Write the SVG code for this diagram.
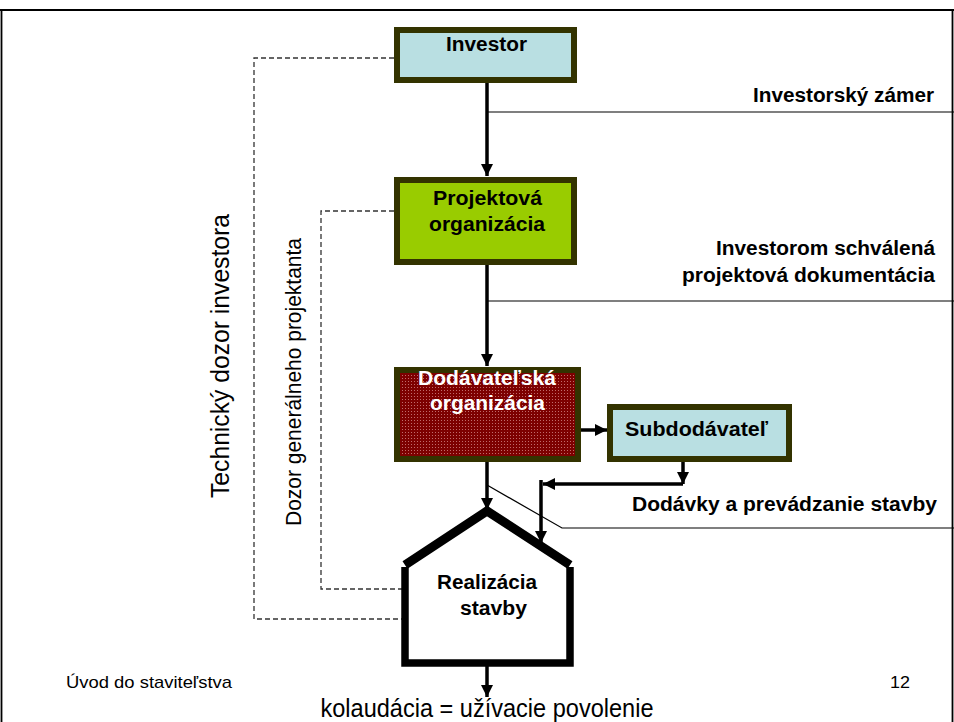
<svg xmlns="http://www.w3.org/2000/svg" width="954" height="722" viewBox="0 0 954 722">
<defs>
<style>
.box{stroke:#333300;stroke-width:6}
.lbl{font-family:"Liberation Sans",Arial,sans-serif;font-weight:bold;font-size:20px;fill:#000}
.reg{font-family:"Liberation Sans",Arial,sans-serif;fill:#000}
.flow{stroke:#000;stroke-width:3.5;fill:none}
.thin{stroke:#000;stroke-width:1.2;fill:none}
.dash{stroke:#333;stroke-width:1.3;stroke-dasharray:5,3;fill:none}
.house{stroke:#000;fill:#fff}
</style>
<marker id="ah" viewBox="0 0 10 10" refX="10" refY="5" markerWidth="12" markerHeight="12" markerUnits="userSpaceOnUse" orient="auto">
<path d="M0,0 L10,5 L0,10 z" fill="#000"/>
</marker>
<pattern id="dots" width="3" height="3" patternUnits="userSpaceOnUse">
<rect width="3" height="3" fill="#7d0000"/>
<rect width="1" height="1" fill="#c06a6a"/>
</pattern>
</defs>
<rect width="954" height="722" fill="#fff"/>
<g id="frame" fill="none" stroke="#000" stroke-width="1.8">
<path d="M0,10 H954"/>
<path d="M1.5,10 V722"/>
<path d="M952.5,10 V722"/>
</g>
<g id="connectors">
<path class="dash" d="M394,58 H254 V619 H402"/>
<path class="dash" d="M394,211 H321 V589 H402"/>
<path class="flow" d="M487,83 V176" marker-end="url(#ah)"/>
<path class="flow" d="M487,265 V366" marker-end="url(#ah)"/>
<path class="flow" d="M487,462 V510" marker-end="url(#ah)"/>
<path class="flow" d="M487,666 V697" marker-end="url(#ah)"/>
<path class="flow" d="M581,430 H607" marker-end="url(#ah)"/>
<path class="flow" d="M683,462 V484" marker-end="url(#ah)"/>
<path class="flow" d="M683,484 H543" marker-end="url(#ah)"/>
<path class="flow" d="M541,480 V543" marker-end="url(#ah)"/>
<path class="thin" d="M487,112 H954"/>
<path class="thin" d="M487,301 H954"/>
<path class="thin" d="M487,485 L562,528 H954"/>
</g>
<g id="investor">
<rect class="box" x="397" y="30" width="177" height="50" fill="#b9dfe2"/>
<text class="lbl" x="486.5" y="51" text-anchor="middle" textLength="81" lengthAdjust="spacingAndGlyphs">Investor</text>
</g>
<g id="projektova">
<rect class="box" x="397" y="180" width="177" height="82" fill="#99cc00"/>
<text class="lbl" x="487.5" y="205" text-anchor="middle" textLength="109" lengthAdjust="spacingAndGlyphs">Projektová</text>
<text class="lbl" x="487" y="231" text-anchor="middle" textLength="116" lengthAdjust="spacingAndGlyphs">organizácia</text>
</g>
<g id="dodavatelska">
<rect class="box" x="397" y="370" width="181" height="89" fill="url(#dots)"/>
<text class="lbl" x="487" y="385" text-anchor="middle" textLength="138" lengthAdjust="spacingAndGlyphs" style="fill:#fff">Dodávateľská</text>
<text class="lbl" x="487.5" y="410" text-anchor="middle" textLength="115" lengthAdjust="spacingAndGlyphs" style="fill:#fff">organizácia</text>
</g>
<g id="subdodavatel">
<rect class="box" x="610" y="407" width="179" height="52" fill="#b9dfe2"/>
<text class="lbl" x="696.5" y="436" text-anchor="middle" textLength="143" lengthAdjust="spacingAndGlyphs">Subdodávateľ</text>
</g>
<g id="realizacia">
<path class="house" d="M405,567 V663 H570 V567" stroke-width="7.5" stroke-linejoin="miter"/>
<path d="M405,565 L487,511 L570,565" fill="none" stroke="#000" stroke-width="9" stroke-linejoin="miter"/>
<text class="lbl" x="487" y="589" text-anchor="middle" textLength="100" lengthAdjust="spacingAndGlyphs">Realizácia</text>
<text class="lbl" x="493.5" y="615" text-anchor="middle" textLength="67" lengthAdjust="spacingAndGlyphs">stavby</text>
</g>
<g id="labels">
<text class="lbl" x="934" y="102" text-anchor="end" textLength="181" lengthAdjust="spacingAndGlyphs">Investorský zámer</text>
<text class="lbl" x="935" y="255" text-anchor="end" textLength="219" lengthAdjust="spacingAndGlyphs">Investorom schválená</text>
<text class="lbl" x="935" y="282" text-anchor="end" textLength="253" lengthAdjust="spacingAndGlyphs">projektová dokumentácia</text>
<text class="lbl" x="937" y="511" text-anchor="end" textLength="305" lengthAdjust="spacingAndGlyphs">Dodávky a prevádzanie stavby</text>
<text class="reg" font-size="26" transform="translate(229,356) rotate(-90)" text-anchor="middle" textLength="284" lengthAdjust="spacingAndGlyphs">Technický dozor investora</text>
<text class="reg" font-size="22" transform="translate(301,382) rotate(-90)" text-anchor="middle" textLength="288" lengthAdjust="spacingAndGlyphs">Dozor generálneho projektanta</text>
<text class="reg" font-size="25" x="487" y="717" text-anchor="middle" textLength="333" lengthAdjust="spacingAndGlyphs">kolaudácia = užívacie povolenie</text>
<text class="reg" font-size="17" x="66" y="688" textLength="166" lengthAdjust="spacingAndGlyphs">Úvod do staviteľstva</text>
<text class="reg" font-size="17" x="890" y="688" textLength="20" lengthAdjust="spacingAndGlyphs">12</text>
</g>
</svg>
